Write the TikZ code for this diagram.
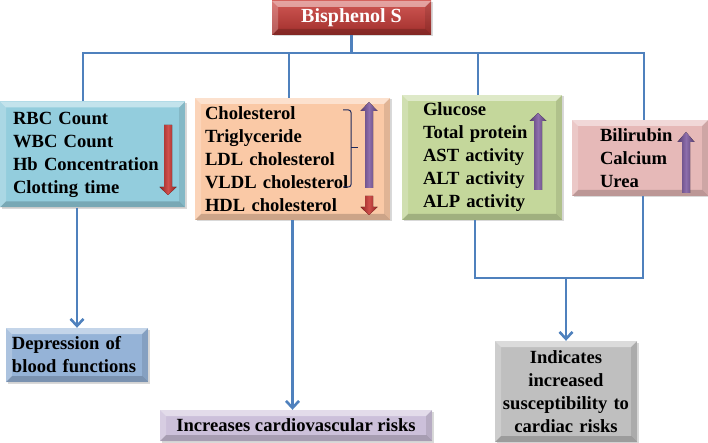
\documentclass[tikz,border=0pt]{standalone}
\usepackage{fontspec}
\setmainfont{Liberation Serif}
\usetikzlibrary{arrows.meta,shadows}
\definecolor{busblue}{HTML}{4F81BD}
\definecolor{bloodfill}{HTML}{93CDDD}
\definecolor{lipidfill}{HTML}{FAC9A6}
\definecolor{liverfill}{HTML}{C4D79B}
\definecolor{kidneyfill}{HTML}{E6B9B8}
\definecolor{deprfill}{HTML}{95B3D7}
\definecolor{cardiofill}{HTML}{CCC0DA}
\definecolor{riskfill}{HTML}{BFBFBF}
\definecolor{bpsred}{HTML}{C83A36}
\definecolor{downred}{HTML}{C8302C}
\definecolor{uppurple}{HTML}{7A559E}
\definecolor{bracenavy}{HTML}{1F2A5C}
\begin{document}
\begin{tikzpicture}[x=1pt,y=-1pt,
  every node/.style={font=\fontsize{18.6}{23}\selectfont\bfseries, inner sep=0pt},
  bevel/.style={path picture={
    \path (path picture bounding box.north west) coordinate (bvA)
          (path picture bounding box.north east) coordinate (bvB)
          (path picture bounding box.south east) coordinate (bvC)
          (path picture bounding box.south west) coordinate (bvD);
    \fill[white,opacity=.45] (bvA) -- (bvB) -- ([shift={(-6pt,-6pt)}]bvB) -- ([shift={(6pt,-6pt)}]bvA) -- cycle;
    \fill[white,opacity=.22] (bvA) -- (bvD) -- ([shift={(6pt,6pt)}]bvD) -- ([shift={(6pt,-6pt)}]bvA) -- cycle;
    \fill[black,opacity=.10] (bvB) -- (bvC) -- ([shift={(-6pt,6pt)}]bvC) -- ([shift={(-6pt,-6pt)}]bvB) -- cycle;
    \fill[black,opacity=.18] (bvD) -- (bvC) -- ([shift={(-6pt,6pt)}]bvC) -- ([shift={(6pt,6pt)}]bvD) -- cycle;
  }},
  panel/.style={bevel, drop shadow={opacity=.3,shadow xshift=1.5pt,shadow yshift=-1.5pt}},
  conn/.style={busblue, line width=2.8pt},
  arr/.style={conn, -{Straight Barb[length=7pt,width=13pt,line width=2.6pt]}},
  brace/.style={bracenavy, line width=1pt, rounded corners=2.5pt}]
  \useasboundingbox (0,0) rectangle (708,443);

  % source
  \node[panel, top color=bpsred!85!white, bottom color=bpsred!80!black, text=white,
        minimum width=159pt, minimum height=34pt, font=\fontsize{20}{23}\selectfont\bfseries]
        (bps) at (351.5,18) {Bisphenol S};

  % affected parameters
  \node[panel, fill=bloodfill, minimum width=185pt, minimum height=106pt, text width=159pt, align=left]
        (blood) at (92.5,154.5) {RBC Count\\WBC Count\\Hb Concentration\\Clotting time};
  \node[panel, fill=lipidfill, minimum width=195pt, minimum height=122pt, text width=175pt, align=left]
        (lipid) at (292.5,159) {Cholesterol\\Triglyceride\\LDL cholesterol\\VLDL cholesterol\\HDL cholesterol};
  \node[panel, fill=liverfill, minimum width=160pt, minimum height=125pt, text width=118pt, align=left]
        (liver) at (482,157.5) {Glucose\\Total protein\\AST activity\\ALT activity\\ALP activity};
  \node[panel, fill=kidneyfill, minimum width=136pt, minimum height=76pt, text width=80pt, align=left]
        (kidney) at (640,158) {Bilirubin\\Calcium\\Urea};

  % outcomes
  \node[panel, fill=deprfill, minimum width=142pt, minimum height=54pt, text width=130pt, align=left]
        (depr) at (77,355) {Depression of\\blood functions};
  \node[panel, fill=cardiofill, minimum width=272pt, minimum height=31pt]
        (cardio) at (296,425.5) {Increases cardiovascular risks};
  \node[panel, fill=riskfill, minimum width=142pt, minimum height=101pt, text width=134pt, align=center]
        (risk) at (566,391.5) {Indicates\\increased\\susceptibility to\\cardiac risks};

  % up and down arrows
  \foreach \cx/\yt/\yh/\yb/\col in {168/195/187/125/downred, 369/215/207/196/downred,
                                    369/102/111/188/uppurple, 538/113/121/190/uppurple,
                                    686/132/142/193/uppurple} {
    \fill[left color=\col!70!black, right color=\col!70!black, middle color=\col!85!white]
      (\cx-4,\yb) -- (\cx-4,\yh) -- (\cx-8.5,\yh) -- (\cx,\yt) -- (\cx+8.5,\yh)
      -- (\cx+4,\yh) -- (\cx+4,\yb) -- cycle;
  }
  \draw[brace] (343,110) -- (351,110) -- (351,187) -- (343,187);
  \draw[bracenavy, line width=1pt] (351,148) -- (358,148);

  % connectors
  \coordinate (bus) at (0,53);
  \coordinate (join) at (0,278);
  \draw[conn] (bps) -- (bps |- bus);
  \draw[conn] ([xshift=-9.5pt]blood.north) |- ([xshift=4pt]kidney.north |- bus) -- ([xshift=4pt]kidney.north);
  \draw[conn] ([xshift=-3.5pt]lipid.north |- bus) -- ([xshift=-3.5pt]lipid.north);
  \draw[conn] ([xshift=-4pt]liver.north |- bus) -- ([xshift=-4pt]liver.north);
  \draw[arr] (depr.north |- blood.south) -- (depr.north);
  \draw[arr] (lipid.south) -- (lipid.south |- cardio.north);
  \draw[conn] ([xshift=-7pt]liver.south) |- ([xshift=3pt]kidney.south |- join) -- ([xshift=3pt]kidney.south);
  \draw[arr] (risk.north |- join) -- (risk.north);
\end{tikzpicture}
\end{document}
